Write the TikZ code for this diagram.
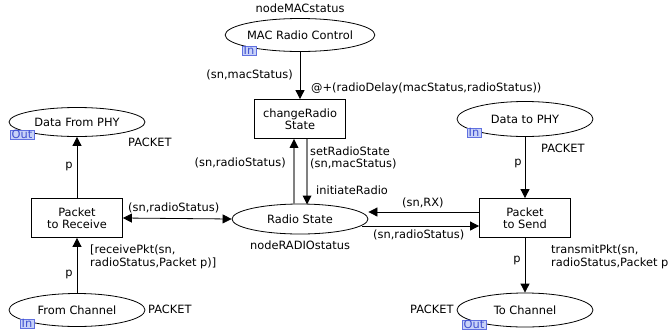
\documentclass[tikz,border=0pt]{standalone}
\usepackage{fontspec}
\setmainfont{DejaVu Sans}
\usetikzlibrary{shapes.geometric,arrows.meta}
\definecolor{tagfill}{HTML}{C8D2F8}
\definecolor{tagdraw}{HTML}{6070E0}
\definecolor{tagtext}{HTML}{4050D0}
\definecolor{grayarc}{HTML}{808080}
\begin{document}
\begin{tikzpicture}[x=1pt,y=-1pt,
  every node/.style={font=\fontsize{11.4}{12.5}\selectfont,inner sep=0pt},
  place/.style={ellipse,draw,line width=0.8pt,minimum width=136pt,minimum height=33pt},
  trans/.style={rectangle,draw,line width=0.8pt,minimum width=91pt,minimum height=39pt,align=center},
  arc/.style={line width=0.8pt,-{Triangle[length=9pt,width=9pt]}},
  garc/.style={line width=1.8pt,draw=grayarc,-{Triangle[length=9pt,width=9pt,color=black,line width=0pt]}},
  lbl/.style={anchor=west},
  tag/.style={draw=tagdraw,fill=tagfill,text=tagtext,inner xsep=1.5pt,inner ysep=0.3pt,font=\fontsize{11.4}{11}\selectfont}
]
\useasboundingbox (0,0) rectangle (669,333);

% places
\node[place] (mac) at (300,35) {MAC Radio Control};
\node[place,minimum height=29pt] (dfp) at (77,122) {Data From PHY};
\node[place] (fch) at (77,310) {From Channel};
\node[place,minimum height=30pt] (rs) at (300,219) {Radio State};
\node[place,minimum height=35pt] (dtp) at (525,119) {Data to PHY};
\node[place,minimum height=34pt] (tch) at (525,310) {To Channel};

% transitions
\node[trans] (crs) at (300,119) {changeRadio\\State};
\node[trans] (ptr) at (77,218) {Packet\\to Receive};
\node[trans] (pts) at (525,218) {Packet\\to Send};

% tags
\node[tag,anchor=north west] (t1) at (242,46) {In};
\node[tag,anchor=north west] (t2) at (10,130) {Out};
\node[tag,anchor=north west] (t3) at (20,319) {In};
\node[tag,anchor=north west] (t4) at (467,128) {In};
\node[tag,anchor=north west] (t5) at (462,320) {Out};

% colour set labels
\node (l1) at (300,8) {nodeMACstatus};
\node[lbl] (l2) at (128,142) {PACKET};
\node[lbl] (l3) at (148,309) {PACKET};
\node (l4) at (300,245) {nodeRADIOstatus};
\node[lbl] (l5) at (541,148) {PACKET};
\node[lbl] (l6) at (410,309) {PACKET};

% arcs
\draw[arc] (mac.south) -- (crs.north);
\node[anchor=east] at (293,75) {(sn,macStatus)};
\node[lbl] at (311,88) {@+(radioDelay(macStatus,radioStatus))};

\draw[arc] (ptr.north) -- (dfp.south);
\node at (69,166) {p};

\draw[arc] (fch.north) -- (ptr.south);
\node at (69,274) {p};
\node[lbl,align=left] at (90,257) {[receivePkt(sn,\\radioStatus,Packet p)]};

\draw[line width=0.8pt,{Triangle[length=9pt,width=9pt]}-{Triangle[length=9pt,width=9pt]}] (ptr.east) -- (rs.west);
\node[lbl] at (128,208) {(sn,radioStatus)};

\coordinate (g1) at (294,204);
\coordinate (g2) at (307,138.5);
\draw[garc] (g1) -- (g1 |- crs.south);
\draw[garc] (g2) -- (307,204.5);
\node[anchor=east] at (286,163) {(sn,radioStatus)};
\node[lbl,align=left] at (310,158) {setRadioState\\(sn,macStatus)};
\node[lbl] at (316,190) {initiateRadio};

\draw[arc] (dtp.south) -- (pts.north);
\node at (518,163) {p};

\draw[arc] (pts.west |- 0,212) -- (rs.east |- 0,212);
\node[lbl] at (402,203) {(sn,RX)};
\draw[arc] (362,226) -- (pts.west |- 0,226);
\node[lbl] at (373,235) {(sn,radioStatus)};

\draw[arc] (pts.south) -- (tch.north);
\node at (517,260) {p};
\node[lbl,align=left] at (551,257) {transmitPkt(sn,\\radioStatus,Packet p)};
\end{tikzpicture}
\end{document}
